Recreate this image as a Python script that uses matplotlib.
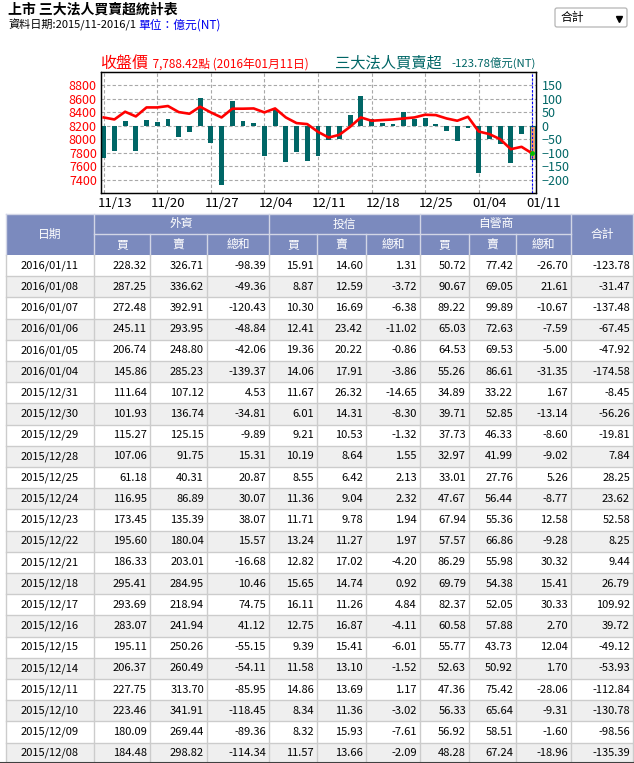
import numpy as np
import matplotlib.pyplot as plt
from matplotlib.patches import Rectangle, FancyBboxPatch
from matplotlib.transforms import ScaledTranslation

plt.rcParams['font.family'] = ['Liberation Sans Narrow', 'Noto Sans CJK TC', 'DejaVu Sans']

# chart data (trading days 2015/11/13 - 2016/01/11)
chart_dates = ['11/13', '11/16', '11/17', '11/18', '11/19', '11/20', '11/23', '11/24', '11/25', '11/26',
               '11/27', '11/30', '12/01', '12/02', '12/03', '12/04', '12/07', '12/08', '12/09', '12/10',
               '12/11', '12/14', '12/15', '12/16', '12/17', '12/18', '12/21', '12/22', '12/23', '12/24',
               '12/25', '12/28', '12/29', '12/30', '12/31', '01/04', '01/05', '01/06', '01/07', '01/08',
               '01/11']
close = [8324, 8294, 8409, 8339, 8473, 8473, 8494, 8404, 8379, 8484,
         8399, 8324, 8454, 8454, 8458, 8399, 8458, 8324, 8240, 8225,
         8110, 8025, 8066, 8185, 8324, 8275, 8285, 8294, 8309, 8324,
         8364, 8359, 8309, 8275, 8334, 8115, 8076, 8001, 7852, 7887,
         7788.42]
# net buy/sell before the table period (11/13 - 12/07)
early_net = [-121, -95, 18, -95, 22, 15, 26, -41, -22, 105, -63, -222, 93, 18, 12, -111, 64]

# table data, newest first
dates = ['2016/01/11', '2016/01/08', '2016/01/07', '2016/01/06', '2016/01/05', '2016/01/04',
         '2015/12/31', '2015/12/30', '2015/12/29', '2015/12/28', '2015/12/25', '2015/12/24',
         '2015/12/23', '2015/12/22', '2015/12/21', '2015/12/18', '2015/12/17', '2015/12/16',
         '2015/12/15', '2015/12/14', '2015/12/11', '2015/12/10', '2015/12/09', '2015/12/08']
fi_buy = [228.32, 287.25, 272.48, 245.11, 206.74, 145.86, 111.64, 101.93, 115.27, 107.06, 61.18, 116.95,
          173.45, 195.60, 186.33, 295.41, 293.69, 283.07, 195.11, 206.37, 227.75, 223.46, 180.09, 184.48]
fi_sell = [326.71, 336.62, 392.91, 293.95, 248.80, 285.23, 107.12, 136.74, 125.15, 91.75, 40.31, 86.89,
           135.39, 180.04, 203.01, 284.95, 218.94, 241.94, 250.26, 260.49, 313.70, 341.91, 269.44, 298.82]
fi_net = [-98.39, -49.36, -120.43, -48.84, -42.06, -139.37, 4.53, -34.81, -9.89, 15.31, 20.87, 30.07,
          38.07, 15.57, -16.68, 10.46, 74.75, 41.12, -55.15, -54.11, -85.95, -118.45, -89.36, -114.34]
it_buy = [15.91, 8.87, 10.30, 12.41, 19.36, 14.06, 11.67, 6.01, 9.21, 10.19, 8.55, 11.36,
          11.71, 13.24, 12.82, 15.65, 16.11, 12.75, 9.39, 11.58, 14.86, 8.34, 8.32, 11.57]
it_sell = [14.60, 12.59, 16.69, 23.42, 20.22, 17.91, 26.32, 14.31, 10.53, 8.64, 6.42, 9.04,
           9.78, 11.27, 17.02, 14.74, 11.26, 16.87, 15.41, 13.10, 13.69, 11.36, 15.93, 13.66]
it_net = [1.31, -3.72, -6.38, -11.02, -0.86, -3.86, -14.65, -8.30, -1.32, 1.55, 2.13, 2.32,
          1.94, 1.97, -4.20, 0.92, 4.84, -4.11, -6.01, -1.52, 1.17, -3.02, -7.61, -2.09]
dl_buy = [50.72, 90.67, 89.22, 65.03, 64.53, 55.26, 34.89, 39.71, 37.73, 32.97, 33.01, 47.67,
          67.94, 57.57, 86.29, 69.79, 82.37, 60.58, 55.77, 52.63, 47.36, 56.33, 56.92, 48.28]
dl_sell = [77.42, 69.05, 99.89, 72.63, 69.53, 86.61, 33.22, 52.85, 46.33, 41.99, 27.76, 56.44,
           55.36, 66.86, 55.98, 54.38, 52.05, 57.88, 43.73, 50.92, 75.42, 65.64, 58.51, 67.24]
dl_net = [-26.70, 21.61, -10.67, -7.59, -5.00, -31.35, 1.67, -13.14, -8.60, -9.02, 5.26, -8.77,
          12.58, -9.28, 30.32, 15.41, 30.33, 2.70, 12.04, 1.70, -28.06, -9.31, -1.60, -18.96]
total = [-123.78, -31.47, -137.48, -67.45, -47.92, -174.58, -8.45, -56.26, -19.81, 7.84, 28.25, 23.62,
         52.58, 8.25, 9.44, 26.79, 109.92, 39.72, -49.12, -53.93, -112.84, -130.78, -98.56, -135.39]

groups = ['外資', '投信', '自營商']
sub_heads = ['買', '賣', '總和']

net = early_net + total[::-1]

W, H = 634, 763
RED = '#ff0000'
TEAL = '#006666'

fig = plt.figure(figsize=(W / 100, H / 100), dpi=100)

# ---- chart ----
ax = fig.add_axes([101 / W, 1 - 193 / H, 435 / W, 121 / H])
ax2 = ax.twinx()
ax.set_zorder(2)
ax.patch.set_visible(False)
ax2.set_zorder(1)
ax2.set_facecolor('#fffcf4')

x = np.arange(len(chart_dates))
ax.set_xlim(-0.25, 40.35)
ax.set_ylim(7200, 9000)
ax.set_yticks(range(7400, 8801, 200))
ax2.set_ylim(-250, 200)
ax2.set_yticks(range(-200, 151, 50))
ax.set_xticks(x[::5])
ax.set_xticklabels(chart_dates[::5])

ax2.set_axisbelow(True)
ax2.grid(True, color='#a8a8a8', linestyle=(0, (3, 2)), linewidth=0.8)
ax.grid(False)
for xv in x[::5]:
    ax2.axvline(xv, color='#a8a8a8', linestyle=(0, (3, 2)), linewidth=0.8, zorder=0)

bars = ax2.bar(x, net, width=0.45, color=TEAL, zorder=2)
bars[-1].set_facecolor('#f4a070')
bars[-1].set_edgecolor(TEAL)
bars[-1].set_linewidth(0.8)
ax2.axvline(x[-1], color='#0000ff', linestyle=(0, (2, 1.5)), linewidth=0.8, zorder=3)

ax.plot(x, close, color=RED, linewidth=1.9, zorder=3)
ax.plot(x[-1], close[-1], 'o', ms=2.5, color='#00c000', zorder=4)

ax.tick_params(axis='y', length=0, pad=3, labelsize=9, labelcolor=RED)
ax.tick_params(axis='x', length=0, pad=3, labelsize=9.5, labelcolor='black')
ax2.tick_params(axis='y', length=0, pad=4, labelsize=9, labelcolor=TEAL)
shift = ScaledTranslation(-6 / 100, 0, fig.dpi_scale_trans)
for lab in ax.get_xticklabels():
    lab.set_horizontalalignment('left')
    lab.set_transform(lab.get_transform() + shift)
for a in (ax, ax2):
    for sp in a.spines.values():
        sp.set_color('black')
        sp.set_linewidth(0.9)

# chart titles
fig.text(100 / W, 1 - 63 / H, '收盤價', color=RED, fontsize=11.5, va='center')
fig.text(150 / W, 1 - 64 / H, f' {close[-1]:,.2f}點 (2016年01月11日)', color=RED, fontsize=8.5, va='center')
fig.text(335 / W, 1 - 63 / H, '三大法人買賣超', color=TEAL, fontsize=11, va='center')
fig.text(451 / W, 1 - 64 / H, f'{net[-1]:.2f}億元(NT)', color=TEAL, fontsize=8.2, va='center')

# page header
fig.text(8 / W, 1 - 10 / H, '上市 三大法人買賣超統計表', fontsize=10, fontweight='bold', va='center')
fig.text(8 / W, 1 - 25 / H, '資料日期:2015/11-2016/1', fontsize=8, va='center')
fig.text(138 / W, 1 - 25 / H, '單位：億元(NT)', fontsize=8.5, color='#0000ee', va='center')

# ---- table (pixel coordinates) ----
ta = fig.add_axes([0, 0, 1, 1])
ta.set_xlim(0, W)
ta.set_ylim(H, 0)
ta.axis('off')
ta.patch.set_visible(False)

dd = FancyBboxPatch((555, 8), 72, 19, boxstyle='round,pad=0,rounding_size=2',
                    fc='white', ec='#b4b4b4', lw=0.9)
ta.add_patch(dd)
ta.text(560, 17.5, '合計', fontsize=8.5, va='center', ha='left')
ta.plot(619, 19, marker='v', ms=4, color='black')

col_x = [6, 94, 150, 207, 269, 317, 366, 420, 469, 516, 571, 633]
hy0, hy1, hy2 = 214, 234, 255
row_h = 21.2
HEAD = '#7b8abe'
HLINE = '#d2d6e6'
GRID = '#cccccc'

ta.add_patch(Rectangle((col_x[0], hy0), col_x[-1] - col_x[0], hy2 - hy0, fc=HEAD, ec='none'))
ta.plot([col_x[1], col_x[10]], [hy1, hy1], color=HLINE, lw=1)
for i, cx in enumerate(col_x):
    top = hy0 if i in (0, 1, 4, 7, 10, 11) else hy1
    ta.plot([cx, cx], [top, hy2], color=HLINE, lw=1)
ta.plot([col_x[0], col_x[-1]], [hy0, hy0], color=HLINE, lw=1)

hfont = dict(color='white', fontsize=8.5, ha='center', va='center')
ta.text((col_x[0] + col_x[1]) / 2, (hy0 + hy2) / 2, '日期', **hfont)
ta.text((col_x[10] + col_x[11]) / 2, (hy0 + hy2) / 2, '合計', **hfont)
for g, name in enumerate(groups):
    c0 = 1 + 3 * g
    ta.text((col_x[c0] + col_x[c0 + 3]) / 2, (hy0 + hy1) / 2, name, **hfont)
    for k, sub in enumerate(sub_heads):
        ta.text((col_x[c0 + k] + col_x[c0 + k + 1]) / 2, (hy1 + hy2) / 2, sub, **hfont)

columns = [fi_buy, fi_sell, fi_net, it_buy, it_sell, it_net, dl_buy, dl_sell, dl_net, total]
for r, d in enumerate(dates):
    y0 = hy2 + r * row_h
    fc = 'white' if r % 2 == 0 else '#efefef'
    ta.add_patch(Rectangle((col_x[0], y0), col_x[-1] - col_x[0], row_h, fc=fc, ec='none'))
    ta.plot([col_x[0], col_x[-1]], [y0 + row_h, y0 + row_h], color=GRID, lw=1)
    yc = y0 + row_h / 2
    ta.text((col_x[0] + col_x[1]) / 2, yc, d, fontsize=8, ha='center', va='center')
    for c, col in enumerate(columns):
        ta.text(col_x[c + 2] - 3, yc, f'{col[r]:.2f}', fontsize=8, ha='right', va='center')
for cx in col_x:
    ta.plot([cx, cx], [hy2, H], color=GRID, lw=1)
ta.plot([0, W], [H - 0.5, H - 0.5], color='#404040', lw=1.5)

fig.savefig('out.png', dpi=100)
